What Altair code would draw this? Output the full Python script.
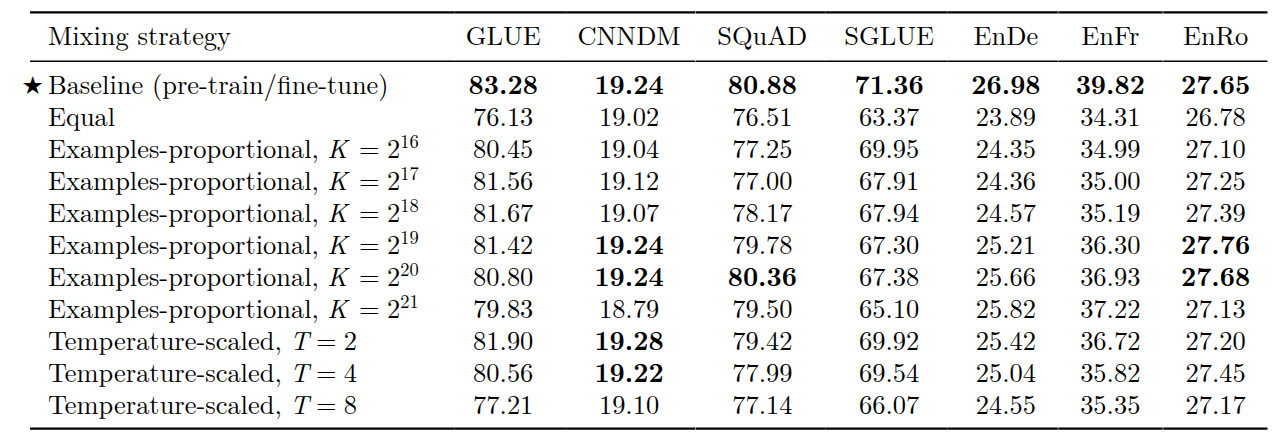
import altair as alt
import pandas as pd

# ---------------- data ----------------
STRATEGY = [
    "Baseline (pre-train/fine-tune)",
    "Equal",
    "Examples-proportional,",
    "Examples-proportional,",
    "Examples-proportional,",
    "Examples-proportional,",
    "Examples-proportional,",
    "Examples-proportional,",
    "Temperature-scaled,",
    "Temperature-scaled,",
    "Temperature-scaled,",
]
PARAM_VAR = ["", "", "K", "K", "K", "K", "K", "K", "T", "T", "T"]
PARAM_BASE = ["", "", "2", "2", "2", "2", "2", "2", "2", "4", "8"]
PARAM_EXP = ["", "", "16", "17", "18", "19", "20", "21", "", "", ""]
MARKED = [True, False, False, False, False, False, False, False, False, False, False]
HEADER_LABEL = "Mixing strategy"
COLUMNS = ["GLUE", "CNNDM", "SQuAD", "SGLUE", "EnDe", "EnFr", "EnRo"]

GLUE = [83.28, 76.13, 80.45, 81.56, 81.67, 81.42, 80.80, 79.83, 81.90, 80.56, 77.21]
CNNDM = [19.24, 19.02, 19.04, 19.12, 19.07, 19.24, 19.24, 18.79, 19.28, 19.22, 19.10]
SQUAD = [80.88, 76.51, 77.25, 77.00, 78.17, 79.78, 80.36, 79.50, 79.42, 77.99, 77.14]
SGLUE = [71.36, 63.37, 69.95, 67.91, 67.94, 67.30, 67.38, 65.10, 69.92, 69.54, 66.07]
ENDE = [26.98, 23.89, 24.35, 24.36, 24.57, 25.21, 25.66, 25.82, 25.42, 25.04, 24.55]
ENFR = [39.82, 34.31, 34.99, 35.00, 35.19, 36.30, 36.93, 37.22, 36.72, 35.82, 35.35]
ENRO = [27.65, 26.78, 27.10, 27.25, 27.39, 27.76, 27.68, 27.13, 27.20, 27.45, 27.17]

# rows printed in bold in each column
BOLD_GLUE = [0]
BOLD_CNNDM = [0, 5, 6, 8, 9]
BOLD_SQUAD = [0, 6]
BOLD_SGLUE = [0]
BOLD_ENDE = [0]
BOLD_ENFR = [0]
BOLD_ENRO = [0, 5, 6]

VALUES = [GLUE, CNNDM, SQUAD, SGLUE, ENDE, ENFR, ENRO]
BOLDS = [BOLD_GLUE, BOLD_CNNDM, BOLD_SQUAD, BOLD_SGLUE, BOLD_ENDE, BOLD_ENFR, BOLD_ENRO]

# ---------------- layout / style ----------------
FONT = "Latin Modern Roman"
FS = 26.5
INK = "#000000"
H = 430
RULE_TOP, RULE_MID, RULE_BOT = 4, 53, 421
HEADER_Y = 37
ROW_RANGE = [86, 406]
LABEL_PANEL_W = 447
LABEL_X = 40
STAR_X = 36
RULE_LEFT = 22
RULE_RIGHT_PAGE = 1268
CENTERS = [504, 630, 763, 890, 1007, 1111, 1216]  # page x of column centres
ORIGIN = 8

# tab stops (in em) where the math part starts after each prefix, and glyph advances (em)
MATH_START_EM = {"Examples-proportional,": 10.56, "Temperature-scaled,": 9.15}
VAR_ADV_EM = {"K": 0.92, "T": 0.70}
REL_GAP_EM = 0.278
EQ_EM = 0.778
DIGIT_EM = 0.5
SUP_SCALE = 0.7
SUP_RAISE_EM = 0.374

ROW_KEYS = [f"r{i}" for i in range(len(STRATEGY))]
yscale = alt.Scale(domain=ROW_KEYS, range=ROW_RANGE, padding=0)
Y = alt.Y("key:N", scale=yscale, axis=None)
one = pd.DataFrame({"k": [0]})


def rule_layers(x0, x1):
    out = []
    for yy, sw in [(RULE_TOP, 2.2), (RULE_MID, 1.4), (RULE_BOT, 2.2)]:
        out.append(
            alt.Chart(one).mark_rule(color=INK, strokeWidth=sw).encode(
                x=alt.value(x0), x2=alt.value(x1), y=alt.value(yy)
            )
        )
    return out


def header_layer(text, x, align):
    return alt.Chart(pd.DataFrame({"h": [text]})).mark_text(
        font=FONT, fontSize=FS, color=INK, align=align, baseline="alphabetic"
    ).encode(x=alt.value(x), y=alt.value(HEADER_Y), text="h:N")


panels = []

# ---------- label column ----------
lab_df = pd.DataFrame({
    "key": ROW_KEYS,
    "name": STRATEGY,
    "var": PARAM_VAR,
    "base": PARAM_BASE,
    "exp": PARAM_EXP,
    "marked": MARKED,
})
lab_base = alt.Chart(lab_df)
label_layers = [
    header_layer(HEADER_LABEL, LABEL_X, "left"),
    lab_base.mark_text(font=FONT, fontSize=FS, color=INK, align="left", baseline="alphabetic")
    .encode(x=alt.value(LABEL_X), y=Y, text="name:N"),
    lab_base.transform_filter("datum.marked").mark_text(
        font="DejaVu Sans", fontSize=25, color=INK, align="right", baseline="alphabetic", text="★"
    ).encode(x=alt.value(STAR_X), y=Y),
]
for prefix, start_em in MATH_START_EM.items():
    grp = lab_base.transform_filter(alt.datum.name == prefix)
    var = [v for n, v in zip(STRATEGY, PARAM_VAR) if n == prefix][0]
    x_var = LABEL_X + start_em * FS
    x_eq = x_var + (VAR_ADV_EM[var] + REL_GAP_EM) * FS
    x_base = x_eq + (EQ_EM + REL_GAP_EM) * FS
    x_exp = x_base + DIGIT_EM * FS
    label_layers += [
        grp.mark_text(font=FONT, fontSize=FS, fontStyle="italic", color=INK, align="left", baseline="alphabetic")
        .encode(x=alt.value(x_var), y=Y, text="var:N"),
        grp.mark_text(font=FONT, fontSize=FS, color=INK, align="left", baseline="alphabetic", text="=")
        .encode(x=alt.value(x_eq), y=Y),
        grp.mark_text(font=FONT, fontSize=FS, color=INK, align="left", baseline="alphabetic")
        .encode(x=alt.value(x_base), y=Y, text="base:N"),
        grp.transform_filter("datum.exp != ''").mark_text(
            font=FONT, fontSize=FS * SUP_SCALE, color=INK, align="left", baseline="alphabetic",
            dy=-SUP_RAISE_EM * FS,
        ).encode(x=alt.value(x_exp), y=Y, text="exp:N"),
    ]
panels.append(
    alt.layer(*rule_layers(RULE_LEFT, LABEL_PANEL_W), *label_layers)
    .properties(width=LABEL_PANEL_W, height=H)
)

# ---------- numeric columns ----------
left = ORIGIN + LABEL_PANEL_W
for i, (name, vals, bold) in enumerate(zip(COLUMNS, VALUES, BOLDS)):
    if i < len(CENTERS) - 1:
        right = (CENTERS[i] + CENTERS[i + 1]) / 2.0
    else:
        right = RULE_RIGHT_PAGE + 4
    w = right - left
    cx = CENTERS[i] - left
    df = pd.DataFrame({
        "key": ROW_KEYS,
        "value": vals,
        "bold": [j in bold for j in range(len(vals))],
    })
    base = alt.Chart(df).encode(
        x=alt.value(cx),
        y=Y,
        text=alt.Text("value:Q", format=".2f"),
    )
    normal = base.transform_filter("!datum.bold").mark_text(
        font=FONT, fontSize=FS, color=INK, align="center", baseline="alphabetic"
    )
    strong = base.transform_filter("datum.bold").mark_text(
        font=FONT, fontSize=FS, fontWeight="bold", color=INK, align="center", baseline="alphabetic"
    )
    x1 = w if i < len(CENTERS) - 1 else RULE_RIGHT_PAGE - left
    panels.append(
        alt.layer(*rule_layers(0, x1), header_layer(name, cx, "center"), normal, strong)
        .properties(width=w, height=H)
    )
    left = right

chart = (
    alt.hconcat(*panels, spacing=0, bounds="flush")
    .properties(padding=0, background="white")
    .configure_view(stroke=None)
)

chart.save("out.html", embed_options={"renderer": "svg", "actions": False})
